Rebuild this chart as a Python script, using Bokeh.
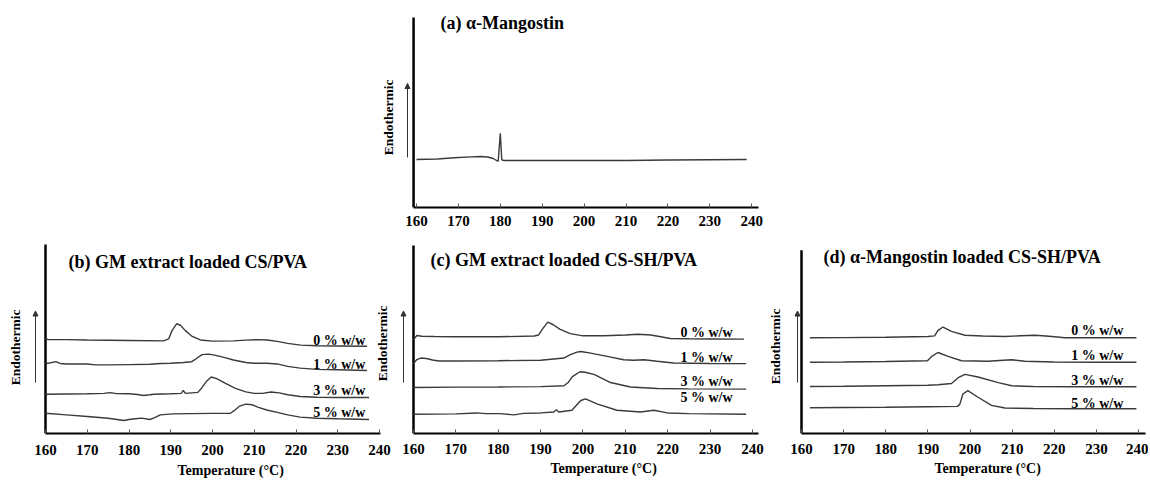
import math
from bokeh.plotting import figure
from bokeh.models import Range1d, FixedTicker, Arrow, NormalHead, Spacer, Title
from bokeh.layouts import row, column
from bokeh.core.properties import value
from bokeh.embed import file_html
from bokeh.resources import INLINE

# ---------------- data (temperature in °C, heat flow in arbitrary units) ----------------
TICKS = [160, 170, 180, 190, 200, 210, 220, 230, 240]
LOADINGS = ["0 % w/w", "1 % w/w", "3 % w/w", "5 % w/w"]
TITLES = ["(a) \u03b1-Mangostin", "(b) GM extract loaded CS/PVA",
          "(c) GM extract loaded CS-SH/PVA", "(d) \u03b1-Mangostin loaded CS-SH/PVA"]
Y_LABEL = "Endothermic"
X_LABEL = "Temperature (\u00b0C)"

# (a) alpha-mangostin
A_T = [160, 165, 169, 173, 175.3, 177, 178.3, 179.1, 179.5, 180.0, 180.35, 180.9, 190, 200, 210, 220, 230, 238.8]
A_V = [48, 48.5, 49.7, 50.6, 51, 50.5, 49, 47, 46.3, 74.3, 47.7, 47, 47, 47, 47, 47.5, 47.8, 48]

# (b) GM extract loaded CS/PVA
B0_T = [160, 160.5, 165, 170, 180, 188.3, 189.5, 190.3, 191.4, 192.3, 193.5, 195, 197.1, 200, 205, 208, 211, 213.1, 215.5, 218, 221.1, 225, 230, 237]
B0_V = [97, 96, 95.8, 95.5, 95, 94.5, 96.5, 105, 112, 110.5, 105, 99.5, 95.5, 94.3, 94.5, 95.3, 95.8, 95.5, 94, 92, 90.2, 89.5, 89.3, 89]
B1_T = [160, 161, 162.5, 163.5, 165, 170, 172, 175, 180, 185, 187.5, 190, 193, 195, 196, 197.5, 199, 200.5, 203, 205, 208, 210, 213, 215.5, 218, 221, 225, 230, 237]
B1_V = [71.5, 72, 73.3, 71.5, 71, 71, 70, 70, 70.3, 70.7, 71.5, 71.7, 72.5, 73.3, 76, 80.5, 81, 80, 77.5, 75, 72.5, 71.7, 71.7, 71, 68.5, 66.7, 65.5, 65, 64.3]
B3_T = [160, 165, 170, 174, 175.5, 177, 180, 182, 183.5, 185, 186, 190, 192.5, 193, 193.5, 195, 196.5, 197.5, 198.5, 199.7, 201, 203, 205.5, 208, 210, 212, 214, 216, 218, 221, 225, 230, 237.5]
B3_V = [40, 40.3, 40.5, 41, 41.7, 40.7, 40.5, 39.8, 38.8, 39.5, 40, 40.5, 41, 44, 41, 41.5, 42, 47, 53, 57.7, 56, 51.5, 46, 42.5, 41, 41, 42.3, 41.5, 39.5, 37.7, 37, 36.8, 36.7]
B5_T = [160, 165, 170, 175, 178.8, 180, 181.5, 183, 185, 186, 187.5, 190.5, 195, 200, 204.3, 205.2, 206.5, 208, 209.5, 211, 213, 215.5, 218, 221, 225, 230, 237.5]
B5_V = [20.7, 19, 17.3, 15.5, 13.3, 14.3, 15, 15.7, 14.3, 16, 19, 20, 20.3, 20.5, 20.7, 23.3, 28, 30, 29.3, 26.7, 24, 21.5, 19, 16.7, 15.5, 15, 14.3]

# (c) GM extract loaded CS-SH/PVA
C0_T = [160, 160.8, 162, 165, 170, 180, 188.5, 189.5, 190.5, 191.7, 193, 194.5, 197, 200, 205, 210, 213, 216, 218, 220.6, 225, 230, 238]
C0_V = [96, 100, 99.3, 99, 98.7, 98.7, 99.5, 100.5, 107, 113.7, 111, 106.5, 102, 99.7, 99.7, 100.5, 101.3, 100.5, 99, 97, 96.7, 96.5, 96.3]
C1_T = [160, 160.8, 161.7, 163, 164.5, 166, 170, 180, 190, 195.5, 197, 198.6, 199.5, 201.8, 205.7, 209.6, 212, 214.4, 217.5, 221.4, 230, 238.5]
C1_V = [71.5, 75.5, 77, 76.5, 75, 74, 74, 74.3, 74.8, 77, 80.5, 83, 83.7, 82, 78.7, 75.3, 74.8, 75.3, 73.7, 72, 71.5, 71.3]
C3_T = [160, 170, 180, 190, 195.5, 196.5, 197.5, 199.3, 200.5, 202.6, 206.5, 211.2, 217.5, 225, 238.5]
C3_V = [47, 47.3, 47.5, 47.8, 48.7, 52, 58, 63, 62.5, 60.3, 52, 47.5, 46, 45.5, 45.3]
C5_T = [160, 170, 175, 177, 180.5, 183.7, 186, 190, 193.1, 193.7, 194.3, 197.4, 198.5, 199.5, 200.6, 203.3, 208, 213.6, 216.7, 219.9, 225, 238.5]
C5_V = [19.7, 20, 21, 20.3, 20.3, 19, 20.5, 21, 22, 24.3, 22, 23.7, 29, 33.7, 35.3, 30.3, 23.7, 22, 23.7, 21, 20.3, 19.7]

# (d) alpha-mangostin loaded CS-SH/PVA
D0_T = [162, 170, 180, 190, 191.6, 192.4, 193.6, 195.6, 198.8, 203, 208.3, 212, 215.4, 218, 220.1, 222.5, 230, 239.5]
D0_V = [97.7, 97.9, 98.2, 99, 99.7, 105.3, 108.7, 104.3, 100.3, 99.5, 99, 99.8, 100.3, 99.5, 98.7, 97.7, 97.7, 97.7]
D1_T = [162, 170, 180, 189.9, 190.9, 192.4, 194.8, 198, 204.3, 207, 209.9, 213, 220, 230, 239.5]
D1_V = [72.7, 73, 73.5, 74.3, 78.7, 82.7, 78.7, 74.3, 73.7, 74.5, 75.3, 73.7, 73, 72.7, 72.7]
D3_T = [162, 170, 180, 190, 192.4, 195.6, 197.2, 198.8, 201.9, 206.7, 209.9, 215, 225, 239.5]
D3_V = [48, 48.3, 48.7, 49.3, 49.7, 51, 57, 60.3, 57.7, 52, 48.7, 48, 47.7, 47.7]
D5_T = [162, 170, 180, 190, 197, 197.6, 198.3, 199.5, 201.9, 205.1, 208.3, 215, 225, 239.5]
D5_V = [26.3, 26.5, 26.8, 27.3, 27.7, 30, 40.3, 43.7, 37, 28.7, 26, 25.5, 25.3, 25.3]

# ---------------- styling / layout ----------------
FONT = "Liberation Serif"
LINE = "#3a3a3a"


def make_fig(width, height, xr, yr, top, bottom, right, axis_lo, axis_hi, label_standoff):
    p = figure(width=width, height=height, x_range=Range1d(*xr), y_range=Range1d(*yr),
               output_backend="svg", toolbar_location=None, y_axis_location=None,
               min_border_left=0, min_border_right=right, min_border_top=top,
               min_border_bottom=bottom)
    p.outline_line_color = None
    p.xgrid.visible = False
    p.ygrid.visible = False
    p.background_fill_color = "white"
    p.border_fill_color = "white"
    ax = p.xaxis[0]
    ax.ticker = FixedTicker(ticks=TICKS)
    ax.bounds = (axis_lo, axis_hi)
    ax.axis_line_width = 2
    ax.axis_line_color = "black"
    ax.major_tick_in = 4
    ax.major_tick_out = 0
    ax.major_tick_line_color = "#555555"
    ax.minor_tick_line_color = None
    ax.major_label_standoff = label_standoff
    ax.major_label_text_font = FONT
    ax.major_label_text_font_style = "bold"
    ax.major_label_text_font_size = "15px"
    ax.major_label_text_color = "black"
    return p


def y_axis_line(p, x0, top):
    p.segment(x0=[x0], y0=[0], x1=[x0], y1=[top], line_color="black", line_width=2.5)


def title_text(p, x, y, txt, size="18px"):
    p.text(x=[x], y=[y], text=[txt], text_font=value(FONT), text_font_style="bold",
           text_font_size=size, text_align="left", text_baseline="middle", text_color="black")


def endo(p, x, y):
    p.text(x=[x], y=[y], text=[Y_LABEL], angle=math.pi / 2, text_font=value(FONT),
           text_font_style="bold", text_font_size="13.5px", text_align="center",
           text_baseline="middle", text_color="black")


def up_arrow(p, x, y0, y1):
    p.add_layout(Arrow(end=NormalHead(size=5, fill_color="#333333", line_color="#333333"),
                       x_start=x, y_start=y0, x_end=x, y_end=y1,
                       line_color="#333333", line_width=1))


def curves(p, series, label_x, label_ys):
    for (t, v), lab, ly in zip(series, LOADINGS, label_ys):
        p.line(t, v, line_color=LINE, line_width=1.4)
        p.text(x=[label_x], y=[ly], text=[lab], text_font=value(FONT), text_font_style="bold",
               text_font_size="14px", text_align="right", text_baseline="middle",
               text_color="black")


def x_title(p, offset, standoff):
    p.add_layout(Title(text=X_LABEL, align="left", offset=offset, standoff=standoff,
                       text_font=FONT, text_font_size="14px", text_font_style="bold",
                       text_color="black"), "below")


# (a)
pa = make_fig(388, 232, (150.93, 241.62), (0, 195), 12, 25, 8, 159.3, 241.62, 8)
y_axis_line(pa, 159.3, 190)
pa.line(A_T, A_V, line_color=LINE, line_width=1.4)
title_text(pa, 165.7, 185, TITLES[0])
endo(pa, 153.3, 90)
up_arrow(pa, 157.85, 50, 124)

# (b)
pb = make_fig(398, 248, (149.22, 244.55), (0, 197), 6, 45, 0, 160, 240.2, 11)
y_axis_line(pb, 160, 193)
curves(pb, [(B0_T, B0_V), (B1_T, B1_V), (B3_T, B3_V), (B5_T, B5_V)], 236.6, [95, 70.7, 44.3, 21.7])
title_text(pb, 165.5, 175, TITLES[1])
endo(pb, 152.8, 88)
up_arrow(pb, 157.6, 52, 125)
endo(pb, 240.72, 92)  # y-label of panel (c), sits left of its axis
x_title(pb, 177, 6)

# (c)
pc = make_fig(368, 248, (156.46, 241.42), (0, 197), 8, 43, 8, 160, 241.4, 10)
y_axis_line(pc, 160, 192)
curves(pc, [(C0_T, C0_V), (C1_T, C1_V), (C3_T, C3_V), (C5_T, C5_V)], 235.3, [103, 78, 53, 37])
title_text(pc, 164.0, 177, TITLES[2])
up_arrow(pc, 157.64, 52, 125)
x_title(pc, 152, 5)

# (d)
pd = make_fig(382, 248, (151.69, 241.66), (0, 197), 8, 43, 3, 160, 241.66, 10)
y_axis_line(pd, 160, 187)
curves(pd, [(D0_T, D0_V), (D1_T, D1_V), (D3_T, D3_V), (D5_T, D5_V)], 236.4, [105.3, 79.7, 54.3, 30.3])
title_text(pd, 165.2, 180, TITLES[3])
endo(pd, 153.83, 89)
up_arrow(pd, 159.05, 52, 125)
x_title(pd, 168, 5)

layout = column(row(Spacer(width=378, height=232), pa), row(pb, pc, pd))

open("out.html", "w").write(file_html(layout, INLINE))
